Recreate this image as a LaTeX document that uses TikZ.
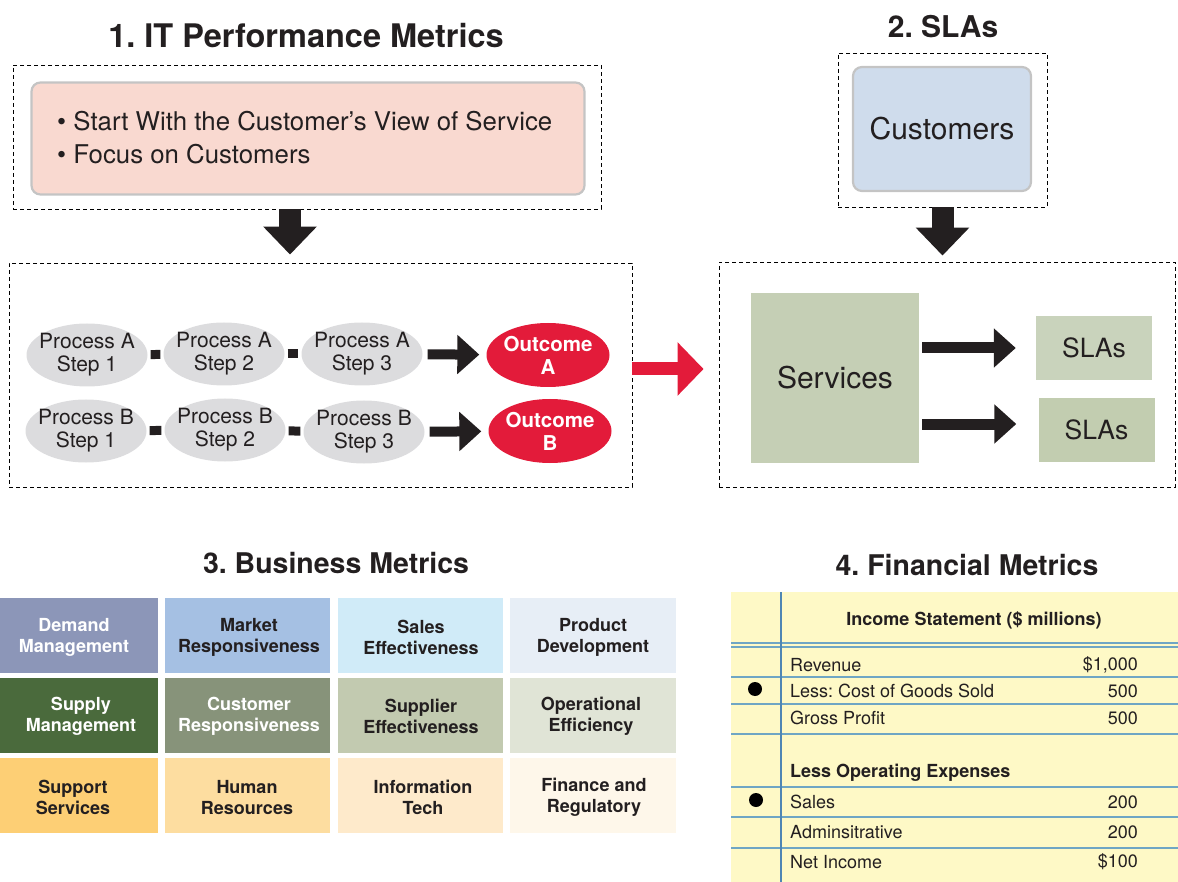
\documentclass[tikz,border=0pt]{standalone}
\usepackage{fontspec}
\setmainfont{TeX Gyre Heros}
\usetikzlibrary{arrows.meta,shapes.geometric,calc}
\frenchspacing
\definecolor{txt}{HTML}{231F20}
\definecolor{pinkfill}{HTML}{F9D9D0}
\definecolor{boxborder}{HTML}{C4C4C4}
\definecolor{custfill}{HTML}{CFDCEC}
\definecolor{procgray}{HTML}{DCDCDE}
\definecolor{outred}{HTML}{E31B3A}
\definecolor{sage}{HTML}{C5CFB5}
\definecolor{sage2}{HTML}{C9D3BC}
\definecolor{sage3}{HTML}{C2CDB0}
\definecolor{c11}{HTML}{8C96B8}
\definecolor{c12}{HTML}{A5C0E3}
\definecolor{c13}{HTML}{D0EBF8}
\definecolor{c14}{HTML}{E7EEF6}
\definecolor{c21}{HTML}{4A6A3C}
\definecolor{c22}{HTML}{87937A}
\definecolor{c23}{HTML}{C2CAB0}
\definecolor{c24}{HTML}{E0E4D6}
\definecolor{c31}{HTML}{FDCF75}
\definecolor{c32}{HTML}{FDDDA0}
\definecolor{c33}{HTML}{FEEACB}
\definecolor{c34}{HTML}{FEF7EA}
\definecolor{paper}{HTML}{FEF9C6}
\definecolor{rule}{HTML}{6FA6C4}
\definecolor{margin}{HTML}{4F86B3}
\tikzset{
  title/.style={font=\bfseries\fontsize{30}{34}\selectfont, text=txt},
  dashbox/.style={draw=black, line width=0.9pt, dash pattern=on 4pt off 3pt},
  proc/.style={ellipse, fill=procgray, minimum width=121pt, minimum height=63pt, inner xsep=-10pt, inner ysep=-5pt, align=center, text=txt, font=\fontsize{21}{23}\selectfont},
  outc/.style={ellipse, fill=outred, minimum width=123pt, minimum height=64pt, inner xsep=-10pt, inner ysep=-5pt, align=center, text=white, font=\bfseries\fontsize{20.5}{23}\selectfont},
  link/.style={line width=9pt, draw=txt, shorten <=3pt, shorten >=3pt},
  midarrow/.style={line width=10pt, draw=txt, -{Triangle[length=22pt,width=38pt]}},
  bigarrow/.style={line width=22pt, draw=txt, -{Triangle[length=28pt,width=52pt]}},
  redarrow/.style={line width=13pt, draw=outred, -{Triangle[length=26pt,width=52pt]}},
  cell/.style={rectangle, minimum height=75pt, inner sep=0pt, align=center, font=\bfseries\fontsize{18}{21}\selectfont, text=txt},
  slabox/.style={rectangle, minimum width=116pt, minimum height=64pt, inner sep=0pt, text=txt, font=\fontsize{26.5}{28}\selectfont},
  tl/.style={anchor=west, text=txt, font=\fontsize{18}{20}\selectfont, inner sep=0pt},
  tr/.style={anchor=east, text=txt, font=\fontsize{18}{20}\selectfont, inner sep=0pt},
}
\begin{document}
\begin{tikzpicture}[x=1pt,y=-1pt]
\useasboundingbox (0,0) rectangle (1178,882);
% titles
\node[title, font=\bfseries\fontsize{32.5}{36}\selectfont] (t1) at (306,36) {1. IT Performance Metrics};
\node[title] (t2) at (943,27) {2. SLAs};
\node[title, font=\bfseries\fontsize{28.5}{32}\selectfont] (t3) at (336,563) {3. Business Metrics};
\node[title, font=\bfseries\fontsize{28.5}{32}\selectfont] (t4) at (967,565) {4. Financial Metrics};
% section 1 top
\node[dashbox, rectangle, minimum width=588pt, minimum height=144pt, inner sep=0pt] (d1) at (307,137) {};
\node[draw=boxborder, line width=2.2pt, fill=pinkfill, rounded corners=9pt, minimum width=553pt, minimum height=112pt, inner sep=0pt] (focus) at (308,138.5) {};
\node[anchor=west, align=left, text=txt, font=\fontsize{25.8}{33}\selectfont, inner sep=0pt] (ftext) at (57,138) {\textbullet\ Start With the Customer’s View of Service\\\textbullet\ Focus on Customers};
% section 1 bottom
\node[dashbox, rectangle, minimum width=623pt, minimum height=224pt, inner sep=0pt] (d2) at (320.5,375) {};
\coordinate (ax1) at (290,0);
\draw[bigarrow] (d1.south -| ax1) -- ($(d2.north -| ax1)+(0,-8)$);
\node[proc] (a1) at (87,355) {Process A\\Step 1};
\node[proc] (a2) at (224,354) {Process A\\Step 2};
\node[proc] (a3) at (362,354) {Process A\\Step 3};
\node[outc] (oa) at (548,355) {Outcome\\A};
\node[proc] (b1) at (86,431) {Process B\\Step 1};
\node[proc] (b2) at (225,430) {Process B\\Step 2};
\node[proc] (b3) at (364,432) {Process B\\Step 3};
\node[outc] (ob) at (550,431) {Outcome\\B};
\draw[link] (a1) -- (a2);
\draw[link] (a2) -- (a3);
\draw[link] (b1) -- (b2);
\draw[link] (b2) -- (b3);
\draw[midarrow, shorten <=5pt, shorten >=7pt] (a3) -- (oa);
\draw[midarrow, shorten <=5pt, shorten >=7pt] (b3) -- (ob);
% section 2
\node[dashbox, rectangle, minimum width=209pt, minimum height=154pt, inner sep=0pt] (d3) at (942.5,130) {};
\node[draw=boxborder, line width=2.2pt, fill=custfill, rounded corners=9pt, minimum width=178pt, minimum height=124pt, inner sep=0pt, text=txt, font=\fontsize{30}{32}\selectfont] (cust) at (942,129) {Customers};
\node[dashbox, rectangle, minimum width=456pt, minimum height=225pt, inner sep=0pt] (d4) at (947,374.5) {};
\draw[bigarrow, shorten >=6pt] (d3.south) -- (d3.south |- d4.north);
\node[rectangle, fill=sage, minimum width=168pt, minimum height=170pt, inner sep=0pt, text=txt, font=\fontsize{30}{32}\selectfont] (serv) at (835,378) {Services};
\node[slabox, fill=sage2] (s1) at (1094,348) {SLAs};
\node[slabox, fill=sage3] (s2) at (1096.5,430) {SLAs};
\coordinate (ar2) at (0,424);
\draw[midarrow, line width=11pt, shorten <=3pt, shorten >=20pt] (serv.east |- s1.west) -- (s1.west);
\draw[midarrow, line width=11pt, shorten <=3pt, shorten >=22pt] (serv.east |- ar2) -- (s2.west |- ar2);
\coordinate (ry) at (0,369);
\draw[redarrow, shorten >=15pt] (d2.east |- ry) -- (d4.west |- ry);
% section 3 grid
\node[cell, fill=c11, minimum width=158pt, text=white] (g11) at (79,635.5) {};
\node[cell, fill=c12, minimum width=165pt] (g12) at (247.5,635.5) {};
\node[cell, fill=c13, minimum width=165pt] (g13) at (420.5,635.5) {};
\node[cell, fill=c14, minimum width=166pt] (g14) at (593,635.5) {};
\node[cell, fill=c21, minimum width=158pt, text=white] (g21) at (79,715.5) {};
\node[cell, fill=c22, minimum width=165pt, text=white] (g22) at (247.5,715.5) {};
\node[cell, fill=c23, minimum width=165pt] (g23) at (420.5,715.5) {};
\node[cell, fill=c24, minimum width=166pt] (g24) at (593,715.5) {};
\node[cell, fill=c31, minimum width=158pt] (g31) at (79,795.5) {};
\node[cell, fill=c32, minimum width=165pt] (g32) at (247.5,795.5) {};
\node[cell, fill=c33, minimum width=165pt] (g33) at (420.5,795.5) {};
\node[cell, fill=c34, minimum width=166pt] (g34) at (593,795.5) {};
\node[cell, text=white] (l11) at (74,637.5) {Demand\\Management};
\node[cell] (l12) at (249,637.5) {Market\\Responsiveness};
\node[cell] (l13) at (421,637.5) {Sales\\Effectiveness};
\node[cell] (l14) at (593,637.5) {Product\\Development};
\node[cell, text=white] (l21) at (81,716.5) {Supply\\Management};
\node[cell, text=white] (l22) at (249,716.5) {Customer\\Responsiveness};
\node[cell] (l23) at (421,716.5) {Supplier\\Effectiveness};
\node[cell] (l24) at (591,716.5) {Operational\\Efficiency};
\node[cell] (l31) at (73,797.5) {Support\\Services};
\node[cell] (l32) at (247,797.5) {Human\\Resources};
\node[cell] (l33) at (423,797.5) {Information\\Tech};
\node[cell] (l34) at (594,797.5) {Finance and\\Regulatory};
% section 4 table
\fill[paper] (731,592) rectangle (1178,882);
\foreach \yy in {643,647,677,704,734,787,817,848} {
  \draw[rule, line width=1.2pt] (731,\yy) -- (1178,\yy);
}
\draw[margin, line width=1.4pt] (781,592) -- (781,882);
\node[text=txt, font=\bfseries\fontsize{18}{20}\selectfont, inner sep=0pt] (ist) at (974,620) {Income Statement (\$ millions)};
\node[tl] (r1) at (790,665) {Revenue};
\node[tr] (v1) at (1138,665) {\$1,000};
\node[tl] (r2) at (790,691) {Less: Cost of Goods Sold};
\node[tr] (v2) at (1138,691) {500};
\node[tl] (r3) at (790,718) {Gross Profit};
\node[tr] (v3) at (1138,718) {500};
\node[tl, font=\bfseries\fontsize{18}{20}\selectfont] (r4) at (790,773) {Less Operating Expenses};
\node[tl] (r5) at (790,802) {Sales};
\node[tr] (v5) at (1138,802) {200};
\node[tl] (r6) at (790,832) {Adminsitrative};
\node[tr] (v6) at (1138,832) {200};
\node[tl] (r7) at (790,862) {Net Income};
\node[tr] (v7) at (1138,862) {\$100};
\fill[black] (755,689) circle (7pt);
\fill[black] (756,800) circle (7pt);
\end{tikzpicture}
\end{document}
